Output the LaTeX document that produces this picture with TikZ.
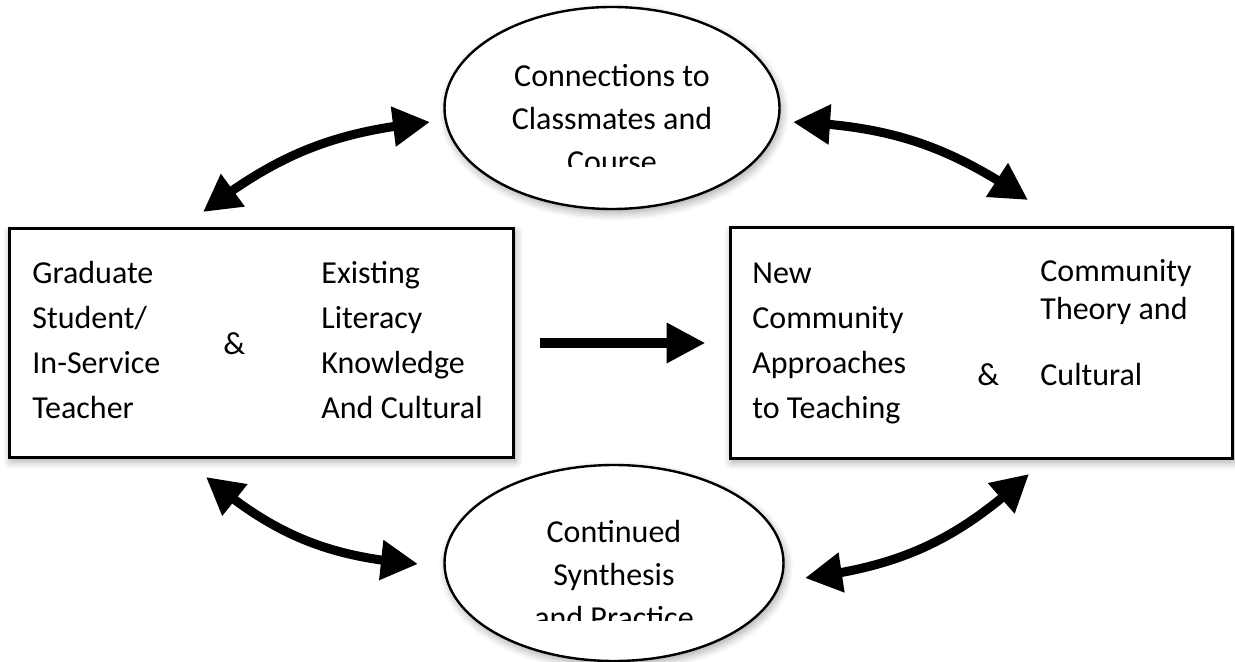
\documentclass[tikz,border=0pt]{standalone}
\usepackage{fontspec}
\setmainfont{Carlito}
\usepackage{tikz}
\usetikzlibrary{arrows.meta}
\usetikzlibrary{bending}
\usetikzlibrary{shapes.geometric}
\usetikzlibrary{shadows.blur}

\begin{document}
\begin{tikzpicture}[x=0.5pt,y=-0.5pt,
  every node/.style={font=\fontsize{16pt}{22.5pt}\selectfont},
  soft/.style={blur shadow={shadow xshift=1pt,shadow yshift=-2pt,shadow opacity=35,shadow blur steps=8,shadow blur radius=4pt}},
  box/.style={draw,line width=1.5pt,fill=white,soft,inner sep=0pt},
  oval/.style={ellipse,draw,line width=1.2pt,fill=white,soft,inner sep=0pt},
  col/.style={align=left,anchor=base west,inner sep=0pt},
  mid/.style={align=center,anchor=base,inner sep=0pt,font=\fontsize{16pt}{21.5pt}\selectfont},
  twoway/.style={line width=4.5pt,{Triangle[length=18.5pt,width=19pt]}-{Triangle[length=18.5pt,width=19pt]}},
  oneway/.style={line width=5pt,-{Triangle[length=19.5pt,width=19pt]}}
]
\useasboundingbox (0,0) rectangle (1235,662);

% the two boxes (text nodes sit on the baseline of their last line)
\node[box,minimum width=252pt,minimum height=114pt] (grad) at (261,343) {};
\node[box,minimum width=251pt,minimum height=115pt] (new) at (981,343) {};

\node[col] (gradl) at (32,418) {Graduate\\Student/\\In-Service\\Teacher};
\node[col] (grada) at (223,354) {\&};
\node[col] (gradr) at (321,418) {Existing\\Literacy\\Knowledge\\And Cultural};

\node[col] (newl) at (752,418) {New\\Community\\Approaches\\to Teaching};
\node[col] (newa) at (977,385) {\&};
\node[col] (newr) at (1040,385) {Community\\[-3.5pt]Theory and\\[10pt]Cultural};

% the two ovals
\node[oval,minimum width=167.5pt,minimum height=101pt] (conn) at (612,108) {};
\node[oval,minimum width=169.5pt,minimum height=98pt] (cont) at (614,563) {};

\begin{scope}
\clip (440,0) rectangle (785,167);
\node[mid] (connt) at (612,173) {Connections to\\Classmates and\\Course};
\end{scope}
\begin{scope}
\clip (440,460) rectangle (790,620);
\node[mid] (contt) at (614,628) {Continued\\Synthesis\\and Practice};
\end{scope}

% arrows
\coordinate (gl) at (203,212);
\coordinate (cl) at (430,122);
\coordinate (cr) at (793,122);
\coordinate (nr) at (1028,200);
\coordinate (gb) at (206,477);
\coordinate (sl) at (418,564);
\coordinate (sr) at (805,578);
\coordinate (nb) at (1029,474);

\draw[twoway] (gl) to[bend left=16] (cl);
\draw[twoway] (cr) to[bend left=16] (nr);
\draw[twoway] (gb) to[bend right=18] (sl);
\draw[twoway] (sr) to[bend right=18] (nb);

\draw[oneway,shorten <=12.5pt,shorten >=11.5pt] (grad.east) -- (new.west);
\end{tikzpicture}
\end{document}
